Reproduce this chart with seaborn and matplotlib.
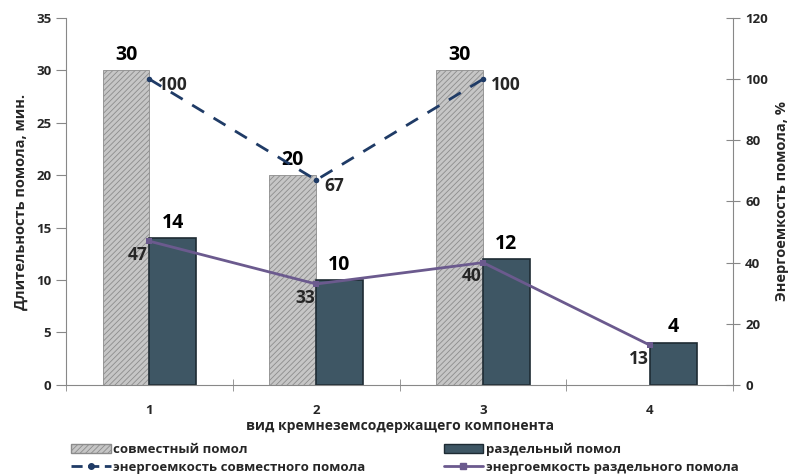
import seaborn as sns
import pandas as pd
import numpy as np
import matplotlib.pyplot as plt
from matplotlib.patches import Patch
from matplotlib.lines import Line2D

categories = ['1', '2', '3', '4']
joint_time = [30, 20, 30, np.nan]
separate_time = [14, 10, 12, 4]
joint_energy = [100, 67, 100, np.nan]
separate_energy = [47, 33, 40, 13]

series_names = ['совместный помол', 'раздельный помол']
energy_names = ['энергоемкость совместного помола', 'энергоемкость раздельного помола']

sns.set_style('white')
plt.rcParams['font.family'] = ['Open Sans', 'DejaVu Sans']
plt.rcParams['font.weight'] = 'bold'
plt.rcParams['hatch.linewidth'] = 0.6

bars = pd.DataFrame({
    'cat': categories * 2,
    'series': [series_names[0]] * 4 + [series_names[1]] * 4,
    'time': joint_time + separate_time,
})
lines = pd.DataFrame({
    'x': list(range(4)),
    'joint': joint_energy,
    'separate': separate_energy,
})

fig = plt.figure(figsize=(7.91, 4.74), dpi=100)
ax = fig.add_axes([0.0834, 0.188, 0.8436, 0.774])

joint_col = '#c6c6c6'
sep_col = '#3e5664'
sns.barplot(data=bars, x='cat', y='time', hue='series', order=categories,
            hue_order=series_names, palette=[joint_col, sep_col],
            width=0.56, ax=ax, legend=False, saturation=1)

for p in ax.containers[0]:
    p.set_hatch('//////')
    p.set_edgecolor('#8c8c8c')
    p.set_linewidth(0.6)
for p in ax.containers[1]:
    p.set_edgecolor('#1e2b33')
    p.set_linewidth(1.2)

for c in ax.containers:
    ax.bar_label(c, fmt='%g', padding=4, fontsize=14, fontweight='bold', color='black')

ax.set_ylim(0, 35)
ax.set_yticks(range(0, 36, 5))
ax.set_xlim(-0.5, 3.5)
ax.set_xticks(range(4))
ax.set_xticks(np.arange(-0.5, 3.6, 1), minor=True)
ax.tick_params(axis='x', which='major', length=0, labelsize=9.5, pad=14)
ax.tick_params(axis='x', which='minor', length=8, direction='inout', color='#888888', bottom=True)
ax.tick_params(axis='y', length=7, direction='out', color='#888888', labelsize=9.5, left=True)
ax.set_xlabel('вид кремнеземсодержащего компонента', fontsize=10, fontweight='bold', labelpad=1)
ax.set_ylabel('Длительность помола, мин.', fontsize=10.5, fontweight='bold', labelpad=6)

ax2 = ax.twinx()
sns.lineplot(data=lines, x='x', y='joint', ax=ax2, color='#1f3b66', linestyle=(0, (5, 4)),
             linewidth=2, marker='o', markersize=4, markeredgewidth=0)
sns.lineplot(data=lines, x='x', y='separate', ax=ax2, color='#6b5a8e', linewidth=2,
             marker='s', markersize=4, markeredgewidth=0)
ax2.set_ylim(0, 120)
ax2.set_yticks(range(0, 121, 20))
ax2.set_xlim(-0.5, 3.5)
ax2.tick_params(axis='y', length=10, direction='inout', color='#888888', labelsize=9.5, right=True)
ax2.set_ylabel('Энергоемкость помола, %', fontsize=10.5, fontweight='bold', labelpad=5)

for xi, v in zip(lines['x'], joint_energy):
    if not np.isnan(v):
        ax2.annotate(f'{v:g}', (xi, v), xytext=(6, -4), textcoords='offset points',
                     ha='left', va='center', fontsize=12.5, fontweight='bold')
for xi, v in zip(lines['x'], separate_energy):
    ax2.annotate(f'{v:g}', (xi, v), xytext=(-1, -10), textcoords='offset points',
                 ha='right', va='center', fontsize=12.5, fontweight='bold')

for a in (ax, ax2):
    a.spines['top'].set_visible(False)
    for s in ('left', 'right', 'bottom'):
        a.spines[s].set_color('#888888')
ax.spines['right'].set_visible(False)
ax2.spines['left'].set_visible(False)
ax2.spines['bottom'].set_visible(False)

handles = [
    Patch(facecolor=joint_col, edgecolor='#8c8c8c', hatch='//////'),
    Line2D([], [], color='#1f3b66', linestyle=(0, (4, 2)), linewidth=2, marker='o', markersize=4),
    Patch(facecolor=sep_col, edgecolor='#1e2b33'),
    Line2D([], [], color='#6b5a8e', linewidth=2, marker='s', markersize=4),
]
labels = [series_names[0], energy_names[0], series_names[1], energy_names[1]]
fig.legend(handles, labels, ncol=2, loc='lower left', bbox_to_anchor=(0.075, -0.025),
           frameon=False, columnspacing=5.9, handlelength=3.0,
           handletextpad=0.2, labelspacing=0.35, prop={'weight': 'bold', 'size': 9.5})

fig.savefig('out.png', dpi=100)
